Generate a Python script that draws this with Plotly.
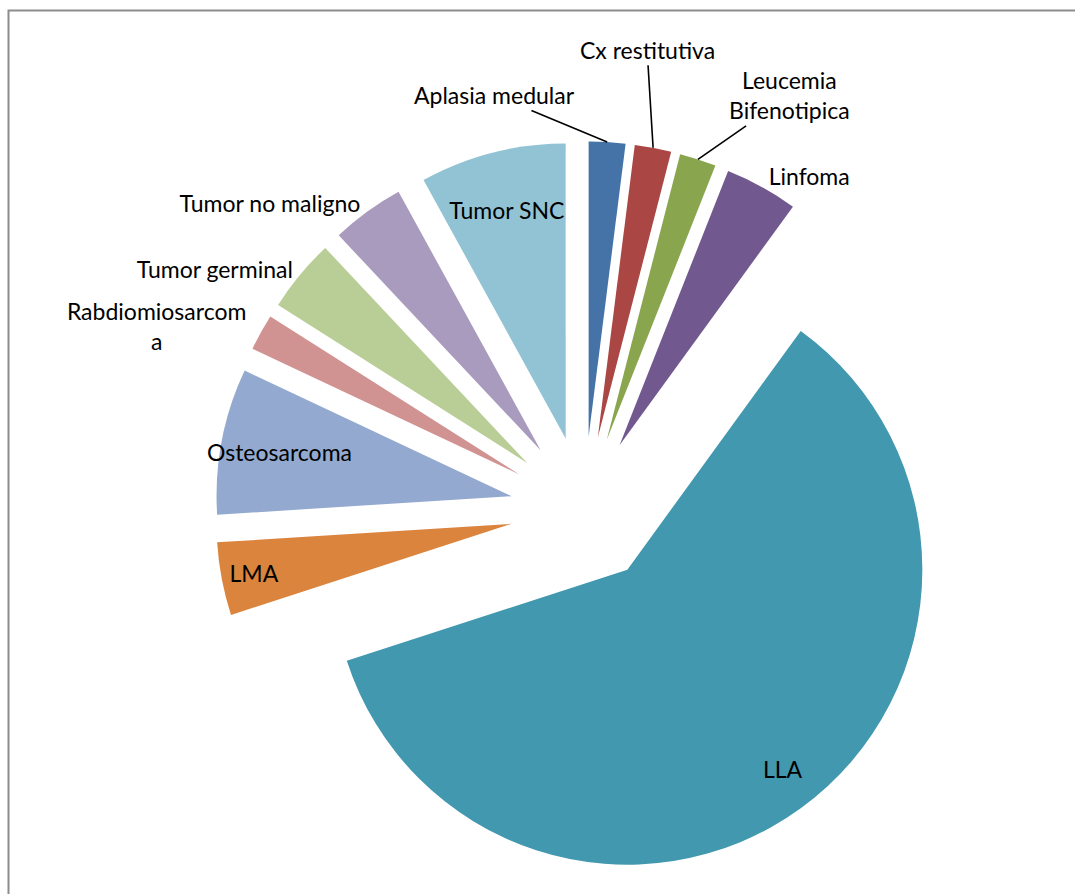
import numpy as np
import plotly.graph_objects as go

labels = ["Aplasia medular", "Cx restitutiva", "Leucemia<br>Bifenotipica", "Linfoma", "LLA",
          "LMA", "Osteosarcoma", "Rabdiomiosarcom<br>a", "Tumor germinal",
          "Tumor no maligno", "Tumor SNC"]
values = [1, 1, 1, 2, 30, 2, 4, 1, 2, 2, 4]
colors = ["#4572A7", "#AA4643", "#89A54E", "#71588F", "#4198AF", "#DB843D",
          "#93A9CF", "#D19392", "#B9CD96", "#A99BBD", "#92C3D4"]
# how each label is drawn: native pie text, or a callout annotation
text_pos = ["none", "none", "none", "outside", "none", "inside",
            "inside", "outside", "outside", "outside", "inside"]

W, H = 1075, 894
cx, cy = 584, 510      # pie centre in pixels (from top-left)
r = 295
pull = 0.25
half = r * (1 + pull)
font = dict(family="Lato, 'Open Sans', sans-serif", size=23, color="#000000")

fig = go.Figure(go.Pie(
    labels=labels,
    values=values,
    marker=dict(colors=colors, line=dict(width=0)),
    sort=False,
    direction="clockwise",
    rotation=0,
    pull=pull,
    textinfo="label",
    textposition=text_pos,
    insidetextorientation="horizontal",
    textfont=font,
    showlegend=False,
    automargin=False,
    hoverinfo="label+percent",
    domain=dict(x=[(cx - half) / W, (cx + half) / W],
                y=[1 - (cy + half) / H, 1 - (cy - half) / H]),
))

# slice bisector angles (clockwise from 12 o'clock), derived from the values
vals = np.array(values, dtype=float)
cum = np.cumsum(vals) / vals.sum() * 360.0
mid = np.radians(cum - vals / vals.sum() * 180.0)


def point(i, frac):
    """pixel point along slice i's bisector at frac * r from the pie centre."""
    px = cx + frac * r * np.sin(mid[i])
    py = cy - frac * r * np.cos(mid[i])
    return px / W, 1 - py / H


annotations = []
# callout labels with leader lines (text offset in pixels from the slice edge)
callouts = {0: (-113, -47), 1: (-6, -98), 2: (92, -64)}
for i, (ax, ay) in callouts.items():
    x, y = point(i, 1 + pull)
    annotations.append(dict(x=x, y=y, xref="paper", yref="paper", text=labels[i],
                            showarrow=True, arrowhead=0, arrowwidth=1.6,
                            arrowcolor="#000000", ax=ax, ay=ay, font=font,
                            standoff=0, startstandoff=0))
# LLA label placed well out along its bisector, as in the original
x, y = point(4, pull + 0.88)
annotations.append(dict(x=x, y=y, xref="paper", yref="paper", text=labels[4],
                        showarrow=False, font=font, xshift=25, yshift=-5))

fig.update_layout(
    width=W, height=H,
    margin=dict(l=0, r=0, t=0, b=0, pad=0, autoexpand=False),
    paper_bgcolor="white",
    plot_bgcolor="white",
    uniformtext=dict(minsize=23, mode="show"),
    annotations=annotations,
    shapes=[dict(type="rect", xref="paper", yref="paper",
                 x0=8.5 / W, x1=1.02, y0=-0.02, y1=1 - 10.5 / H,
                 line=dict(color="#8C8C8C", width=2), fillcolor="rgba(0,0,0,0)",
                 layer="below")],
)

fig.write_html("out.html")
